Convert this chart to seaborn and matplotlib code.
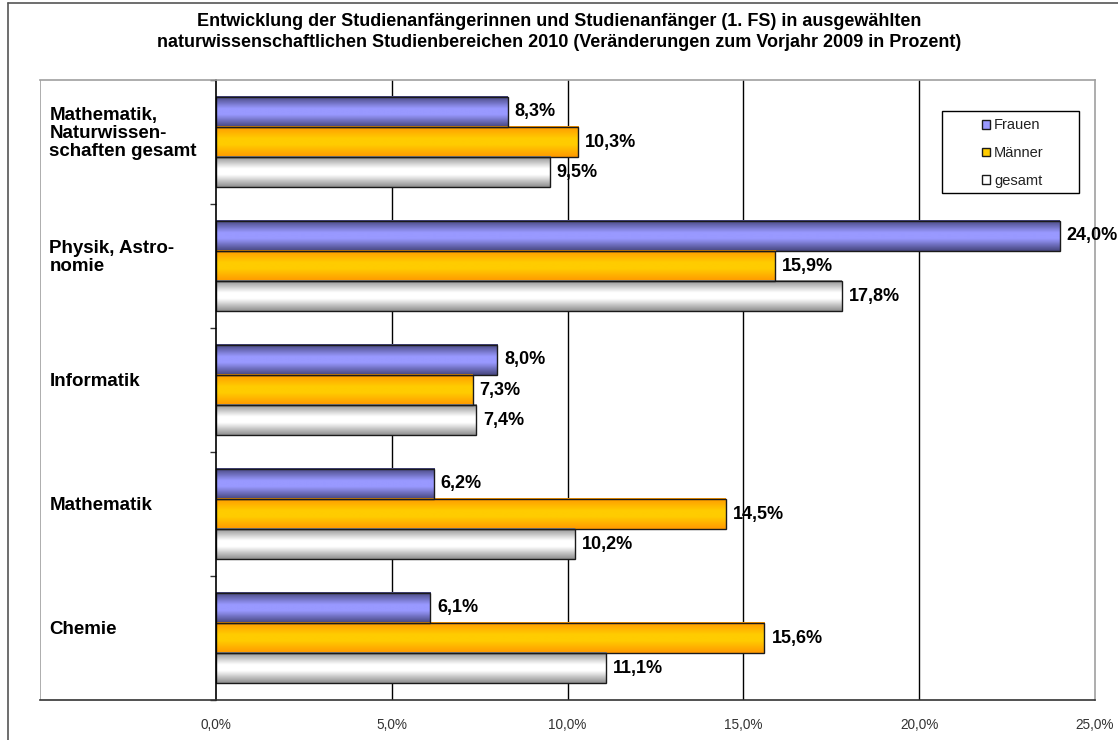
"""
Studienanfänger 2010 - Veränderung zum Vorjahr, horizontales Balkendiagramm
"""

import numpy as np
import pandas as pd
import matplotlib
matplotlib.use("Agg")
import matplotlib.pyplot as plt
from matplotlib.colors import LinearSegmentedColormap
from matplotlib.lines import Line2D
from matplotlib.patches import Patch, Rectangle
import seaborn as sns

categories = [
    "Mathematik,\nNaturwissen-\nschaften gesamt",
    "Physik, Astro-\nnomie",
    "Informatik",
    "Mathematik",
    "Chemie",
]
series = ["Frauen", "Männer", "gesamt"]
frauen = [8.3, 24.0, 8.0, 6.2, 6.1]
maenner = [10.3, 15.9, 7.3, 14.5, 15.6]
gesamt = [9.5, 17.8, 7.4, 10.2, 11.1]
xticks = [0, 5, 10, 15, 20, 25]

title = ("Entwicklung der Studienanfängerinnen und Studienanfänger (1. FS) in ausgewählten\n"
         "naturwissenschaftlichen Studienbereichen 2010 (Veränderungen zum Vorjahr 2009 in Prozent)")

# light centre / dark edge per series (Excel style cylinder shading)
light = {"Frauen": "#9999ff", "Männer": "#ffcc00", "gesamt": "#ffffff"}
dark = {"Frauen": "#46467e", "Männer": "#ff9900", "gesamt": "#8f8f8f"}

df = pd.DataFrame({
    "Bereich": categories * 3,
    "Serie": [s for s in series for _ in categories],
    "Wert": frauen + maenner + gesamt,
})


def de_pct(v):
    return f"{v:.1f}".replace(".", ",") + "%"


def gradient_fill(ax, patch, c_dark, c_light):
    cmap = LinearSegmentedColormap.from_list(
        "g", [(0, c_dark), (0.4, c_light), (0.6, c_light), (1, c_dark)])
    x0, y0 = patch.get_x(), patch.get_y()
    w, h = patch.get_width(), patch.get_height()
    grad = np.linspace(0, 1, 64).reshape(-1, 1)
    ax.imshow(grad, extent=[x0, x0 + w, y0 + h, y0], aspect="auto",
              cmap=cmap, zorder=0.8, interpolation="bilinear")
    patch.set_facecolor("none")


sns.set_style("white")
plt.rcParams["font.family"] = ["Liberation Sans", "DejaVu Sans"]
plt.rcParams["text.color"] = "black"

fig = plt.figure(figsize=(11.18, 7.40), dpi=100)
ax = fig.add_axes([40 / 1118, 40 / 740, 1055 / 1118, 620 / 740])

sns.barplot(data=df, y="Bereich", x="Wert", hue="Serie", hue_order=series,
            order=categories, orient="h", width=0.73, palette=light,
            edgecolor="#1a1a1a", linewidth=1.0, legend=False, ax=ax)

for cont, s in zip(ax.containers, series):
    for bar in cont:
        gradient_fill(ax, bar, dark[s], light[s])
        ax.annotate(de_pct(bar.get_width()),
                    (bar.get_width(), bar.get_y() + bar.get_height() / 2),
                    xytext=(5, 0), textcoords="offset points",
                    va="center", ha="left", fontsize=13, fontweight="bold",
                    color="black", annotation_clip=False)

ax.set_xlim(-5, 25)
ax.set_ylim(len(categories) - 0.5, -0.5)
ax.set_xlabel("")
ax.set_ylabel("")

# x axis
ax.set_xticks([-5] + xticks)
ax.set_xticklabels([""] + [de_pct(t) for t in xticks], fontsize=9.8, color="#333333")
ax.tick_params(axis="x", direction="out", length=5, width=1, color="#333333", pad=8)
for t in xticks[1:-1]:
    ax.axvline(t, color="black", lw=1, zorder=0.5)

# category axis at x=0 with ticks between groups
ax.spines["left"].set_position(("data", 0))
ax.spines["left"].set_color("black")
ax.set_yticks(np.arange(-0.5, len(categories), 1.0))
ax.set_yticklabels([])
ax.tick_params(axis="y", direction="out", length=4, width=1, color="#333333", left=True)
ax.axvline(-5, color="#a0a0a0", lw=1.2)
ax.spines["bottom"].set_color("#333333")
ax.spines["top"].set_color("#a0a0a0")
ax.spines["right"].set_color("#a0a0a0")
for sp in ax.spines.values():
    sp.set_linewidth(1.2)

for i, cat in enumerate(categories):
    ax.text(-4.73, i - 0.07, cat, ha="left", va="center", fontsize=13.5,
            fontweight="bold", linespacing=1.08, color="black")

# legend: Excel style box with centred entries
ax.add_patch(Rectangle((0.855, 0.818), 0.13, 0.132, transform=ax.transAxes,
                       facecolor="white", edgecolor="black", lw=1, zorder=4))
handles = [Patch(facecolor=light[s], edgecolor="#1a1a1a", lw=1, label=s) for s in series]
leg = ax.legend(handles=handles, loc="center", bbox_to_anchor=(0.922, 0.882),
                frameon=False, handlelength=0.55, handleheight=0.55,
                handletextpad=0.3, labelspacing=0.95, fontsize=10.5,
                borderpad=0, borderaxespad=0, labelcolor="#222222")
leg.set_zorder(5)

fig.text(0.5, 1 - 32 / 740, title, ha="center", va="center", fontsize=13,
         fontweight="bold", linespacing=1.3, color="black")

# outer chart border
fig.add_artist(Line2D([8 / 1118, 8 / 1118], [0, 1 - 3 / 740], color="#555555", lw=1.2))
fig.add_artist(Line2D([8 / 1118, 1], [1 - 3 / 740, 1 - 3 / 740], color="#555555", lw=1.2))

fig.savefig("out.png", dpi=100)
